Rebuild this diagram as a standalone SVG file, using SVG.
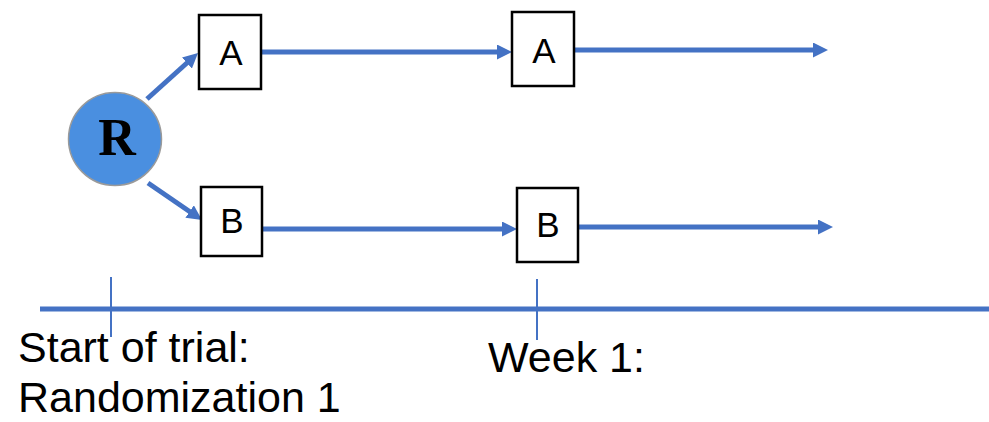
<svg xmlns="http://www.w3.org/2000/svg" width="989" height="422" viewBox="0 0 989 422">
  <style>
    .box { fill: #ffffff; stroke: #000000; stroke-width: 2.5; }
    .box-label { font-family: "Liberation Sans", Arial, sans-serif; font-size: 35px; fill: #000000; text-anchor: middle; }
    .flow { stroke: #4472C4; stroke-width: 5; fill: none; marker-end: url(#arrow); }
    .axis { stroke: #4472C4; stroke-width: 5; fill: none; }
    .tick { stroke: #4472C4; stroke-width: 2; fill: none; }
    .caption { font-family: "Liberation Sans", Arial, sans-serif; font-size: 43px; fill: #000000; }
  </style>
  <defs>
    <marker id="arrow" viewBox="0 0 10 10" refX="2" refY="5" markerWidth="3" markerHeight="3" orient="auto">
      <path d="M0,0 L10,5 L0,10 Z" fill="#4472C4"/>
    </marker>
  </defs>

  <rect width="989" height="422" fill="#ffffff"/>

  <!-- connectors between the randomization node and treatment boxes -->
  <g id="connectors">
    <line class="flow" x1="147" y1="99" x2="189.1" y2="61"/>
    <line class="flow" x1="148" y1="183" x2="192.1" y2="213.2"/>
    <line class="flow" x1="261" y1="52" x2="500" y2="52"/>
    <line class="flow" x1="574" y1="50" x2="816" y2="50"/>
    <line class="flow" x1="262" y1="229" x2="505" y2="229"/>
    <line class="flow" x1="578" y1="227" x2="821" y2="227"/>
  </g>

  <!-- randomization node -->
  <g id="node-R">
    <circle cx="115" cy="139" r="46.5" fill="#4A8FE0" stroke="#9a9a9a" stroke-width="1.5"/>
    <text x="117" y="155" font-family="'Liberation Serif', 'Times New Roman', serif" font-weight="bold" font-size="52" text-anchor="middle" fill="#000000">R</text>
  </g>

  <g id="node-A1">
    <rect class="box" x="199" y="15" width="62" height="74"/>
    <text class="box-label" x="231" y="65">A</text>
  </g>
  <g id="node-B1">
    <rect class="box" x="201" y="187" width="61" height="69"/>
    <text class="box-label" x="232" y="233">B</text>
  </g>
  <g id="node-A2">
    <rect class="box" x="512" y="12" width="62" height="74"/>
    <text class="box-label" x="544" y="63">A</text>
  </g>
  <g id="node-B2">
    <rect class="box" x="517" y="188" width="61" height="74"/>
    <text class="box-label" x="548" y="237">B</text>
  </g>

  <!-- timeline -->
  <g id="timeline">
    <line class="axis" x1="40" y1="309" x2="989" y2="309"/>
    <line class="tick" x1="111" y1="277" x2="111" y2="337"/>
    <line class="tick" x1="537" y1="279" x2="537" y2="340"/>
    <text class="caption" x="18" y="362">Start of trial:</text>
    <text class="caption" x="18" y="412">Randomization 1</text>
    <text class="caption" x="488" y="372">Week 1:</text>
  </g>
</svg>
